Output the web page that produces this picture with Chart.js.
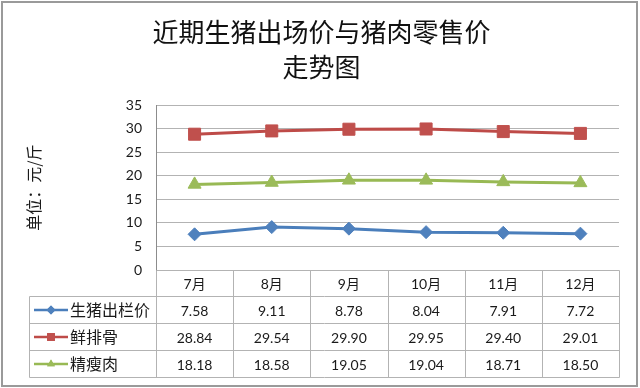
<!DOCTYPE html>
<html>
<head>
<meta charset="utf-8">
<script src="https://cdn.jsdelivr.net/npm/chart.js@4.4.1/dist/chart.umd.min.js"></script>
<style>
  html, body { margin:0; padding:0; background:#fff; }
  #wrap { width:640px; height:388px; position:relative; }
</style>
</head>
<body>
<div id="wrap"><canvas id="c" width="640" height="388"></canvas></div>
<script>
const MONTHS = ["7月", "8月", "9月", "10月", "11月", "12月"];
const HOG_PRICE = [7.58, 9.11, 8.78, 8.04, 7.91, 7.72];
const RIBS = [28.84, 29.54, 29.90, 29.95, 29.40, 29.01];
const LEAN = [18.18, 18.58, 19.05, 19.04, 18.71, 18.50];
const SERIES_NAMES = ["生猪出栏价", "鲜排骨", "精瘦肉"];
const TITLE_LINES = ["近期生猪出场价与猪肉零售价", "走势图"];
const Y_TITLE = "单位：元/斤";

const CJK = '"Noto Sans CJK SC", sans-serif';
const NUM = 'Lato, "Noto Sans CJK SC", sans-serif';
const GRID = "#b3b3b3";

function ds(label, data, line, fill, style, radius){
  return {
    label, data,
    borderColor: line, backgroundColor: fill,
    borderWidth: 3,
    pointStyle: style, pointRadius: radius, pointHoverRadius: radius,
    pointBackgroundColor: fill, pointBorderColor: fill, pointBorderWidth: 1,
    tension: 0
  };
}

// draws the data table under the plot, columns taken from the x scale
const dataTable = {
  id: "dataTable",
  afterDraw(chart){
    const ctx = chart.ctx;
    const xs = chart.scales.x;
    const area = chart.chartArea;
    const n = MONTHS.length;
    const colW = (area.right - area.left) / n;
    const top = Math.round(area.bottom) + 0.5;
    const headH = 26, rowH = 27;
    const legL = 29.5;
    const bottom = top + headH + rowH * 3;

    ctx.save();
    ctx.strokeStyle = GRID;
    ctx.lineWidth = 1;
    ctx.beginPath();
    // vertical lines
    for(let i = 0; i <= n; i++){
      const x = Math.round(xs.getPixelForValue(0) - colW / 2 + i * colW) + 0.5;
      ctx.moveTo(x, top); ctx.lineTo(x, bottom);
    }
    ctx.moveTo(legL, top + headH); ctx.lineTo(legL, bottom);
    // horizontal lines
    const r = Math.round(area.right) + 0.5;
    ctx.moveTo(Math.round(area.left) + 0.5, top); ctx.lineTo(r, top);
    for(let k = 0; k < 4; k++){
      const y = top + headH + k * rowH;
      ctx.moveTo(legL, y); ctx.lineTo(r, y);
    }
    ctx.stroke();

    ctx.fillStyle = "#1a1a1a";
    ctx.textAlign = "center";
    ctx.textBaseline = "middle";
    ctx.font = "14px " + NUM;
    MONTHS.forEach((m, i) => {
      ctx.fillText(m, xs.getPixelForValue(i), top + headH / 2 + 1);
    });

    chart.data.datasets.forEach((d, k) => {
      const cy = top + headH + k * rowH + rowH / 2;
      ctx.font = "14px " + NUM;
      ctx.textAlign = "center";
      d.data.forEach((v, i) => {
        ctx.fillText(v.toFixed(2), xs.getPixelForValue(i), cy + 1);
      });
      // legend key
      ctx.strokeStyle = d.borderColor;
      ctx.lineWidth = 2.5;
      ctx.beginPath();
      ctx.moveTo(34, cy); ctx.lineTo(68, cy);
      ctx.stroke();
      ctx.fillStyle = d.pointBackgroundColor;
      Chart.helpers.drawPoint(ctx, {
        pointStyle: d.pointStyle, radius: d.pointStyle === "rect" ? 5.5 : 4.5,
        borderWidth: 0, rotation: 0
      }, 51, cy);
      ctx.fill();
      ctx.fillStyle = "#1a1a1a";
      ctx.textAlign = "left";
      ctx.font = "16px " + CJK;
      ctx.fillText(SERIES_NAMES[k], 70, cy);
    });

    // outer frame
    ctx.strokeStyle = "#9a9a9a";
    ctx.lineWidth = 2;
    ctx.strokeRect(2, 2, 635, 384);
    ctx.restore();
  }
};

new Chart(document.getElementById("c"), {
  type: "line",
  data: {
    labels: MONTHS,
    datasets: [
      ds(SERIES_NAMES[0], HOG_PRICE, "#4a7ebb", "#4f81bd", "rectRot", 6.5),
      ds(SERIES_NAMES[1], RIBS, "#be4b48", "#c0504d", "rect", 8.5),
      ds(SERIES_NAMES[2], LEAN, "#98b954", "#9bbb59", "triangle", 7.5)
    ]
  },
  options: {
    responsive: false,
    animation: false,
    events: [],
    layout: { padding: { left: 24, right: 21, top: 0, bottom: 118 } },
    plugins: {
      legend: { display: false },
      tooltip: { enabled: false },
      title: {
        display: true,
        text: TITLE_LINES,
        color: "#111",
        font: { family: CJK, size: 26, weight: "normal", lineHeight: 1.35 },
        padding: { top: 14.5, bottom: 20.5 }
      }
    },
    scales: {
      x: {
        offset: true,
        grid: { display: false },
        border: { display: false },
        ticks: { display: false },
        afterFit(s){ s.height = 0; }
      },
      y: {
        min: 0, max: 35,
        ticks: { stepSize: 5, padding: 14, color: "#1a1a1a", font: { family: NUM, size: 14 } },
        grid: { color: GRID, drawTicks: false },
        border: { display: true, color: "#8c8c8c" },
        title: {
          display: true, text: Y_TITLE, color: "#1a1a1a",
          font: { family: CJK, size: 16 }, padding: 0
        },
        afterFit(s){ s.width = 132; }
      }
    }
  },
  plugins: [dataTable]
});
</script>
</body>
</html>
